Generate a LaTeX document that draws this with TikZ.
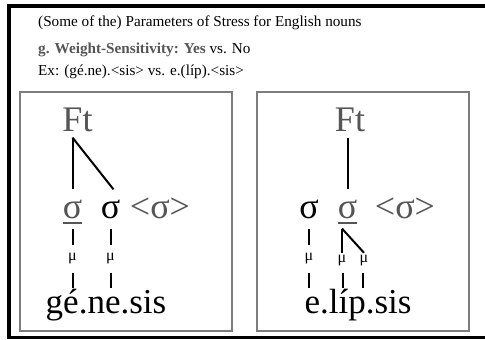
\documentclass[tikz,border=0pt]{standalone}
\usepackage{fontspec}
\setmainfont{Liberation Serif}
\usetikzlibrary{calc}
\definecolor{tgray}{RGB}{85,85,85}
\definecolor{boxgray}{RGB}{125,125,125}
\begin{document}
\begin{tikzpicture}[x=1pt,y=-1pt,
  hdr/.style={anchor=base west,inner sep=0pt,font=\fontsize{15.2}{17}\selectfont},
  ftn/.style={anchor=base,inner xsep=0pt,inner ysep=6pt,text=tgray,font=\fontsize{36}{40}\selectfont},
  syl/.style={anchor=base,inner xsep=0pt,inner ysep=10pt,font=\fontsize{36}{40}\selectfont},
  mu/.style={inner sep=0pt,minimum height=28pt,font=\fontsize{16}{17}\selectfont},
  mus/.style={mu,minimum height=16pt},
  word/.style={anchor=base,inner sep=0pt,font=\fontsize{35}{40}\selectfont},
  ln/.style={line width=2pt},
  frame/.style={draw=boxgray,line width=1.2pt}]
\useasboundingbox (0,0) rectangle (485,340);
\fill[white] (0,0) rectangle (485,340);
% outer black frame
\fill[black] (7,4) rectangle (485,7.5);
\fill[black] (7,4) rectangle (10.5,339);
\fill[black] (7,335.5) rectangle (485,339);
% header
\node[hdr] (t1) at (38,27) {(Some of the) Parameters of Stress for English nouns};
\node[hdr] (t2) at (38,53) {\textcolor{tgray}{\textbf{g. Weight-Sensitivity: Yes}} vs. No};
\node[hdr] (t3) at (38,75) {Ex: (gé.ne).<sis> vs. e.(líp).<sis>};
% boxes
\draw[frame] (20,92) rectangle (232,331);
\draw[frame] (257,92) rectangle (469,331);
% left tree
\node[ftn] (ft1) at (77.5,131) {Ft};
\node[syl,text=tgray] (s1) at (72.5,218) {σ};
\node[syl] (s2) at (110.5,218) {σ};
\node[syl,text=tgray] (x1) at (160,218) {<σ>};
\draw[tgray,line width=1.5pt] ($(s1.base west)+(0,5)$) -- ($(s1.base east)+(0,5)$);
\draw[ln] (ft1.south -| s1) -- (s1.north);
\draw[ln] (ft1.south -| s1) -- ($(s2.north)+(3,0)$);
\node[mu] (m1) at (72.5,259) {μ};
\node[mu] (m2) at (110.5,259) {μ};
\node[word] (w1) at (106,313) {gé.ne.sis};
\draw[ln] (s1.south) -- (m1.north);
\draw[ln] (m1.south) -- (m1.south |- w1.north);
\draw[ln] (s2.south) -- (m2.north);
\draw[ln] (m2.south) -- (m2.south |- w1.north);
% right tree
\node[ftn] (ft2) at (350,131) {Ft};
\node[syl] (s3) at (309,218) {σ};
\node[syl,text=tgray] (s4) at (347.5,218) {σ};
\node[syl,text=tgray] (x2) at (405,218) {<σ>};
\draw[tgray,line width=1.5pt] ($(s4.base west)+(0,5)$) -- ($(s4.base east)+(0,5)$);
\draw[ln] (ft2.south -| s4) -- (s4.north);
\node[mu] (m3) at (309,259) {μ};
\node[mus] (m4) at (342,261) {μ};
\node[mus] (m5) at (364,261) {μ};
\node[word] (w2) at (358,313) {e.líp.sis};
\draw[ln] (s3.south) -- (m3.north);
\draw[ln] (m3.south) -- (m3.south |- w2.north);
\draw[ln] (m4.north |- s4.south) -- (m4.north);
\draw[ln] (m4.north |- s4.south) -- (m5.north);
\draw[ln] ($(m4.south)+(1,4)$) -- ($(m4.south |- w2.north)+(1,0)$);
\draw[ln] ($(m5.south)+(-1,4)$) -- ($(m5.south |- w2.north)+(-1,0)$);
\end{tikzpicture}
\end{document}
